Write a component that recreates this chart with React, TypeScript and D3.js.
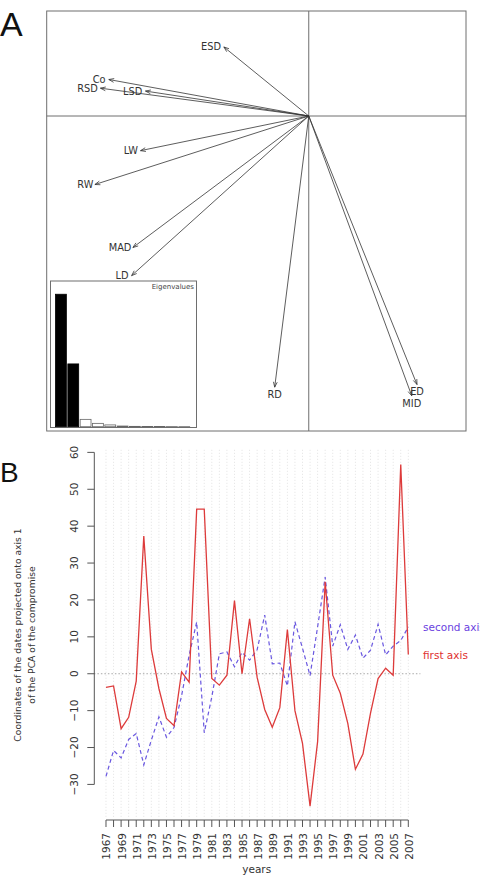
import React from "react";
import * as d3 from "d3";

// Panel A: correlation circle of the compromise (loadings on axes 1 and 2)
const variableNames = ["ESD", "Co", "RSD", "LSD", "LW", "RW", "MAD", "LD", "RD", "ED", "MID"];
const loadingAxis1 = [-0.324, -0.763, -0.795, -0.623, -0.642, -0.816, -0.671, -0.676, -0.13, 0.413, 0.393];
const loadingAxis2 = [0.263, 0.139, 0.106, 0.095, -0.132, -0.261, -0.501, -0.608, -1.033, -1.023, -1.066];
const eigenvalues = [5.95, 2.82, 0.33, 0.15, 0.08, 0.03, 0.015, 0.01, 0.006, 0.003, 0.001];
const keptAxes = 2;

// Panel B: yearly coordinates on the compromise axes
const years = [
  1967, 1968, 1969, 1970, 1971, 1972, 1973, 1974, 1975, 1976,
  1977, 1978, 1979, 1980, 1981, 1982, 1983, 1984, 1985, 1986,
  1987, 1988, 1989, 1990, 1991, 1992, 1993, 1994, 1995, 1996,
  1997, 1998, 1999, 2000, 2001, 2002, 2003, 2004, 2005, 2006,
  2007,
];
const firstAxis = [
  -3.7, -3.3, -14.9, -11.8, -2, 37.3, 6.6, -4.0, -12.1, -14.1,
  0.5, -2.3, 44.6, 44.6, -1.3, -3.1, -0.4, 19.8, 0, 14.9,
  -1, -9.7, -14.5, -9.2, 12.0, -10.0, -18.9, -35.9, -18.4, 24.9,
  -0.4, -5.3, -13.5, -25.9, -21.8, -10.7, -1.3, 1.5, -0.4, 56.7,
  5.2,
];
const secondAxis = [
  -27.8, -20.8, -22.8, -17.8, -16.2, -24.7, -18, -11.7, -17.2, -14.6,
  -6, 5, 14, -16, -6.3, 5.4, 5.9, 1.9, 5.8, 3.7,
  6.5, 15.9, 2.7, 2.9, -3.3, 14.1, 6.9, -0.5, 12.7, 26.2,
  7.5, 13.3, 6.6, 10.5, 4.2, 6.4, 13.4, 5.1, 7.5, 9,
  12.7,
];
const yTicks = [-30, -20, -10, 0, 10, 20, 30, 40, 50, 60];
const yearLabels = years.filter((_, i) => i % 2 === 0);

const FONT = "DejaVu Sans, sans-serif";
const RED = "#dd3b3b";
const BLUE = "#6a58e0";

const fmt = (v: number) => (v < 0 ? "\u2212" + Math.abs(v) : String(v));

function PanelA() {
  const x = d3.scaleLinear().domain([-1, 0.6]).range([46.7, 466]);
  const y = d3.scaleLinear().domain([-1.2, 0.4]).range([431, 11]);
  const ox = x(0);
  const oy = y(0);
  const fs = 9.8;

  const arrows = variableNames.map((name, i) => {
    const tx = x(loadingAxis1[i]);
    const ty = y(loadingAxis2[i]);
    const ang = Math.atan2(ty - oy, tx - ox);
    const head = 5.5;
    const spread = (20 * Math.PI) / 180;
    const h1 = [tx - head * Math.cos(ang - spread), ty - head * Math.sin(ang - spread)];
    const h2 = [tx - head * Math.cos(ang + spread), ty - head * Math.sin(ang + spread)];
    // label pushed outward depending on the arrow's dominant direction
    const xr = loadingAxis1[i];
    const yr = loadingAxis2[i];
    const w = (name.length * 0.66 + 0.64) * fs;
    const yh = 0.75 * fs;
    let lx = tx;
    let ly = ty;
    if (xr > yr && xr > -yr) lx = tx + w / 2;
    else if (xr > yr && xr <= -yr) ly = ty + yh;
    else if (xr <= yr && xr <= -yr) lx = tx - w / 2;
    else ly = ty - yh;
    return { name, tx, ty, h1, h2, lx, ly };
  });

  // eigenvalue inset
  const inset = { left: 50.5, right: 196.5, top: 281, bottom: 427.5 };
  const bx = d3
    .scaleBand<number>()
    .domain(eigenvalues.map((_, i) => i))
    .range([55.5, 189.7])
    .paddingInner(0.12);
  const by = d3
    .scaleLinear()
    .domain([0, d3.max(eigenvalues)! * 1.1])
    .range([426.7, inset.top]);

  return (
    <g>
      <text x={0} y={36} fontFamily="Liberation Sans, Arial, sans-serif" fontSize={34} fill="#111">
        A
      </text>
      <rect x={46.7} y={11} width={466 - 46.7} height={420} fill="none" stroke="#6e6e6e" strokeWidth={1} />
      <line x1={ox} x2={ox} y1={11} y2={431} stroke="#6e6e6e" strokeWidth={1} />
      <line x1={46.7} x2={466} y1={oy} y2={oy} stroke="#6e6e6e" strokeWidth={1} />

      {arrows.map((a) => (
        <g key={a.name} stroke="#333" strokeWidth={0.8} fill="none">
          <line x1={ox} y1={oy} x2={a.tx} y2={a.ty} />
          <polyline points={`${a.h1[0]},${a.h1[1]} ${a.tx},${a.ty} ${a.h2[0]},${a.h2[1]}`} />
        </g>
      ))}
      {arrows.map((a) => (
        <text
          key={a.name + "-l"}
          x={a.lx}
          y={a.ly}
          textAnchor="middle"
          dominantBaseline="central"
          fontFamily={FONT}
          fontSize={fs}
          fill="#333"
        >
          {a.name}
        </text>
      ))}

      <rect
        x={inset.left}
        y={inset.top}
        width={inset.right - inset.left}
        height={inset.bottom - inset.top}
        fill="#fff"
        stroke="#6e6e6e"
        strokeWidth={1}
      />
      {eigenvalues.map((v, i) => (
        <rect
          key={i}
          x={bx(i)}
          y={by(v)}
          width={bx.bandwidth()}
          height={by(0) - by(v)}
          fill={i < keptAxes ? "#000" : "#fff"}
          stroke={i < keptAxes ? "#000" : "#666"}
          strokeWidth={0.8}
        />
      ))}
      <text x={194} y={289} textAnchor="end" fontFamily={FONT} fontSize={7} fill="#444">
        Eigenvalues
      </text>
    </g>
  );
}

function PanelB() {
  const x = d3.scaleLinear().domain([1965.4, 2008.6]).range([93.9, 420.4]);
  const y = d3.scaleLinear().domain([-39.7, 60.7]).range([820.2, 449.8]);
  const [plotTop, plotBottom] = [y(60.7), y(-39.7)];

  const line = d3
    .line<number>()
    .x((_, i) => x(years[i]))
    .y((d) => y(d));

  return (
    <g fontFamily={FONT}>
      <text x={0} y={482} fontFamily="Liberation Sans, Arial, sans-serif" fontSize={28} fill="#111">
        B
      </text>

      {/* vertical year guides */}
      {years.map((yr) => (
        <line
          key={yr}
          x1={x(yr)}
          x2={x(yr)}
          y1={plotTop}
          y2={plotBottom - 3}
          stroke="#e2e2e2"
          strokeWidth={1}
          strokeDasharray="1 2"
        />
      ))}
      <line
        x1={x(1965.4)}
        x2={x(2008.6)}
        y1={y(0)}
        y2={y(0)}
        stroke="#a8a8a8"
        strokeWidth={1}
        strokeDasharray="1.5 2"
      />

      <path d={line(secondAxis)!} fill="none" stroke={BLUE} strokeWidth={1.2} strokeDasharray="4 3" />
      <path d={line(firstAxis)!} fill="none" stroke={RED} strokeWidth={1.3} />

      <text x={423} y={y(secondAxis[secondAxis.length - 1])} dominantBaseline="central" fontSize={10.5} fill="#6a3fe0">
        second axis
      </text>
      <text x={423} y={y(firstAxis[firstAxis.length - 1])} dominantBaseline="central" fontSize={10.5} fill="#e0302f">
        first axis
      </text>

      {/* y axis */}
      <line x1={94.3} x2={94.3} y1={y(-30)} y2={y(60)} stroke="#555" strokeWidth={1} />
      {yTicks.map((t) => (
        <g key={t}>
          <line x1={87.3} x2={94.3} y1={y(t)} y2={y(t)} stroke="#555" strokeWidth={1} />
          <text
            transform={`translate(74,${y(t)}) rotate(-90)`}
            textAnchor="middle"
            dominantBaseline="central"
            fontSize={10.5}
            fill="#333"
          >
            {fmt(t)}
          </text>
        </g>
      ))}

      {/* x axis */}
      <line x1={x(1967)} x2={x(2007)} y1={820} y2={820} stroke="#555" strokeWidth={1} />
      {years.map((yr) => (
        <line key={yr} x1={x(yr)} x2={x(yr)} y1={820} y2={827} stroke="#555" strokeWidth={1} />
      ))}
      {yearLabels.map((yr) => (
        <text
          key={yr}
          transform={`translate(${x(yr) + 0.5},833) rotate(-90)`}
          textAnchor="end"
          dominantBaseline="central"
          fontSize={10.5}
          fill="#333"
        >
          {yr}
        </text>
      ))}

      <text x={256.7} y={873} textAnchor="middle" fontSize={10.5} fill="#333">
        years
      </text>
      <text transform="translate(17.5,635) rotate(-90)" textAnchor="middle" dominantBaseline="central" fontSize={9.2} fill="#333">
        Coordinates of the dates projected onto axis 1
      </text>
      <text transform="translate(31.5,635) rotate(-90)" textAnchor="middle" dominantBaseline="central" fontSize={9.2} fill="#333">
        of the PCA of the compromise
      </text>
    </g>
  );
}

export default function App() {
  return (
    <svg
      width={480}
      height={875}
      style={{ position: "absolute", left: 0, top: 0, background: "#fff" }}
    >
      <PanelA />
      <PanelB />
    </svg>
  );
}
